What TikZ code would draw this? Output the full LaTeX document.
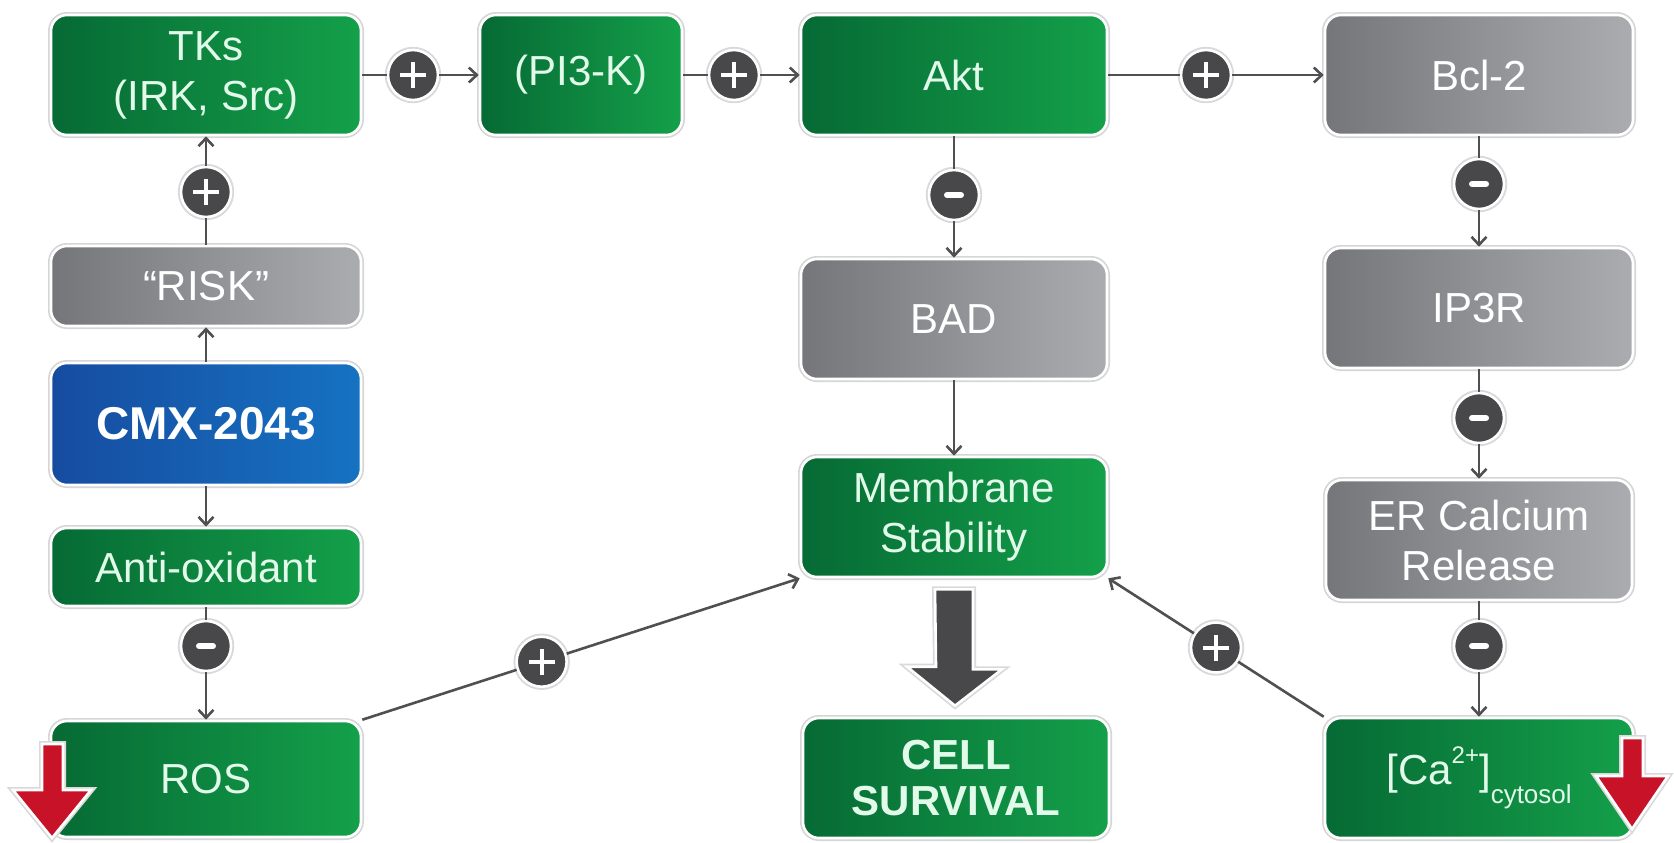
\documentclass[tikz,border=0pt]{standalone}
\usepackage{fontspec}
\setmainfont{Liberation Sans}
\usepackage{tikz}
\usetikzlibrary{arrows.meta,calc}
\usetikzlibrary{positioning}

\definecolor{grdark}{RGB}{6,106,52}
\definecolor{grlight}{RGB}{20,160,74}
\definecolor{gydark}{RGB}{116,118,121}
\definecolor{gylight}{RGB}{170,172,175}
\definecolor{bldark}{RGB}{22,76,160}
\definecolor{bllight}{RGB}{22,114,194}
\definecolor{signgray}{RGB}{72,72,75}
\definecolor{linegray}{RGB}{80,80,83}
\definecolor{mint}{RGB}{226,250,234}
\definecolor{downred}{RGB}{200,18,40}

\tikzset{
  box/.style={rectangle, rounded corners=8pt, draw=white, line width=1.3pt,
    preaction={draw=black!16, line width=3pt}, align=center, inner sep=2pt,
    font=\fontsize{21}{25}\selectfont, minimum width=155pt, minimum height=60pt},
  greenbox/.style={box, left color=grdark, right color=grlight, text=mint},
  graybox/.style={box, left color=gydark, right color=gylight, text=white},
  bluebox/.style={box, left color=bldark, right color=bllight, text=white},
  sign/.style={circle, fill=signgray, draw=white, line width=1.3pt,
    preaction={draw=black!15, line width=3.2pt}, minimum size=25pt, inner sep=0pt},
  signplus/.style={sign, path picture={
    \draw[white, line width=2pt]
      ([xshift=-6.5pt]path picture bounding box.center) -- ([xshift=6.5pt]path picture bounding box.center)
      ([yshift=-6.5pt]path picture bounding box.center) -- ([yshift=6.5pt]path picture bounding box.center);}},
  signminus/.style={sign, path picture={
    \draw[white, line width=3pt, line cap=round]
      ([xshift=-3.5pt]path picture bounding box.center) -- ([xshift=3.5pt]path picture bounding box.center);}},
  conn/.style={draw=linegray, line width=1.3pt},
  arr/.style={conn, -{Straight Barb[length=4pt,width=7.5pt]}},
  redarrow/.style={fill=downred, draw=white, line width=1.3pt,
    preaction={draw=black!15, line width=3pt}},
  bigarrow/.style={fill=signgray, draw=white, line width=1.3pt,
    preaction={draw=black!15, line width=3pt}}
}

\begin{document}
\begin{tikzpicture}[x=0.5pt,y=-0.5pt]
  \fill[white] (0,0) rectangle (1674,842);

  % boxes
  \node[greenbox] (tks) at (206,75) {TKs\\(IRK, Src)};
  \node[greenbox, minimum width=101pt] (pik) at (581,75) {(PI3-K)};
  \node[greenbox, minimum width=153pt] (akt) at (954,75) {Akt};
  \node[graybox, minimum width=154pt] (bcl) at (1479,75) {Bcl-2};
  \node[graybox, minimum height=40pt] (risk) at (206,286) {“RISK”};
  \node[bluebox, minimum height=61pt, font=\bfseries\fontsize{23}{27}\selectfont] (cmx) at (206,424) {CMX-2043};
  \node[greenbox, minimum height=39pt] (anti) at (206,567) {Anti-oxidant};
  \node[greenbox, minimum height=58pt] (ros) at (206,779) {ROS};
  \node[graybox, minimum width=153pt] (bad) at (954,319) {BAD};
  \node[greenbox, minimum width=153pt] (memb) at (954,517) {Membrane\\Stability};
  \node[greenbox, minimum width=153pt, font=\bfseries\fontsize{21}{23}\selectfont] (cell) at (956,778) {CELL\\SURVIVAL};
  \node[graybox, minimum width=154pt] (ip3r) at (1479,308) {IP3R};
  \node[graybox, minimum width=153pt] (er) at (1479,540) {ER Calcium\\Release};
  \node[greenbox, minimum width=154pt] (ca) at (1479,778)
    {[Ca\raisebox{0.5em}{\fontsize{12}{12}\selectfont 2+}]\raisebox{-0.45em}{\fontsize{13}{13}\selectfont cytosol}};

  % signs
  \node[signplus] (p1) at (413,75) {};
  \node[signplus] (p2) at (734,75) {};
  \node[signplus] (p3) at (1206,75) {};
  \node[signplus] (p4) at (206,192) {};
  \node[signminus] (m1) at (206,646) {};
  \node[signplus] (p5) at ($(ros.north east)!0.41!(memb.south west)$) {};
  \node[signminus] (m2) at (954,195) {};
  \node[signminus] (m3) at (1479,184) {};
  \node[signminus] (m4) at (1479,418) {};
  \node[signminus] (m5) at (1479,646) {};
  \node[signplus] (p6) at ($(ca.north west)!0.5!(memb.south east)$) {};

  % connectors
  \draw[conn] (tks) -- (p1); \draw[arr] (p1) -- (pik);
  \draw[conn] (pik) -- (p2); \draw[arr] (p2) -- (akt);
  \draw[conn] (akt) -- (p3); \draw[arr] (p3) -- (bcl);
  \draw[conn] (risk) -- (p4); \draw[arr] (p4) -- (tks);
  \draw[arr] (cmx) -- (risk);
  \draw[arr] (cmx) -- (anti);
  \draw[conn] (anti) -- (m1); \draw[arr] (m1) -- (ros);
  \draw[conn] (ros.north east) -- (p5); \draw[arr] (p5) -- (memb.south west);
  \draw[conn] (akt) -- (m2); \draw[arr] (m2) -- (bad);
  \draw[arr] (bad) -- (memb);
  \draw[conn] (bcl) -- (m3); \draw[arr] (m3) -- (ip3r);
  \draw[conn] (ip3r) -- (m4); \draw[arr] (m4) -- (er);
  \draw[conn] (er) -- (m5); \draw[arr] (m5) -- (ca);
  \draw[conn] (ca.north west) -- (p6); \draw[arr] (p6) -- (memb.south east);

  % big arrow membrane -> survival
  \coordinate (btop) at ($(memb.south)+(0,11)$);
  \coordinate (btip) at ($(cell.north)+(-1,-11)$);
  \draw[bigarrow] ($(btop)+(-19,0)$) -- ++(38,0) -- ++(0,80) -- ++(29,0) -- (btip)
    -- ++(-48,-39) -- ++(29,0) -- cycle;

  % red down arrows
  \draw[redarrow] (42,744) -- (63,744) -- (63,790) -- (91,790) -- (52,838) -- (13,790) -- (42,790) -- cycle;
  \draw[redarrow] (1622,738) -- (1643,738) -- (1643,776) -- (1668,776) -- (1632,829) -- (1596,776) -- (1622,776) -- cycle;
\end{tikzpicture}
\end{document}
